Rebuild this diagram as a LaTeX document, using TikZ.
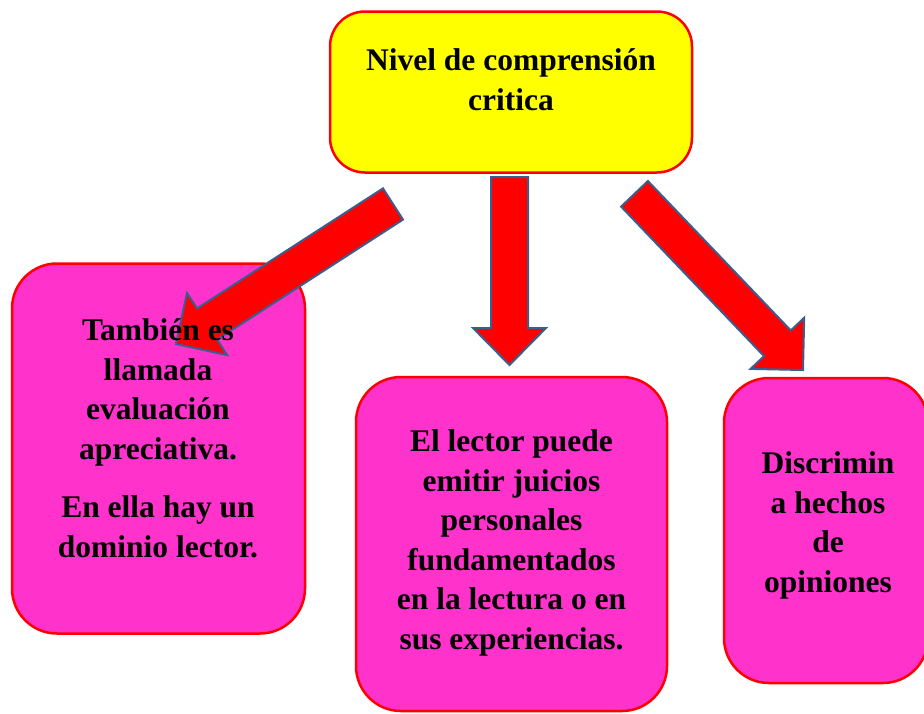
\documentclass[tikz,border=0pt]{standalone}
\usepackage{fontspec}
\setmainfont{Liberation Serif}
\definecolor{boxpink}{HTML}{FF33CC}
\definecolor{boxyellow}{HTML}{FFFF00}
\definecolor{arrowred}{HTML}{FF0000}
\definecolor{arrowblue}{HTML}{3A5F8F}
\begin{document}
\begin{tikzpicture}[x=1pt,y=-1pt,
  box/.style={draw=arrowred, line width=2.5pt, rounded corners=45pt, inner sep=0pt},
  pinkbox/.style={box, fill=boxpink},
  blockarrow/.style={fill=arrowred, draw=arrowblue, line width=2pt, line join=miter},
  label/.style={font=\bfseries\fontsize{31.5}{39.5}\selectfont, align=center, anchor=base, inner sep=0pt}]
\useasboundingbox (0,0) rectangle (924,713);
% boxes
\node[box, fill=boxyellow, rounded corners=35pt, minimum width=362pt, minimum height=161pt] (top) at (511,92) {};
\node[pinkbox, minimum width=293pt, minimum height=370pt] (left) at (158.5,448.5) {};
\node[pinkbox, minimum width=311pt, minimum height=334pt] (mid) at (511.5,544) {};
\node[pinkbox, minimum width=204pt, minimum height=305pt] (right) at (826,530.5) {};
% block arrows
\draw[blockarrow] (383,188.4) -- (403,219.6) -- (217.1,339.6) -- (227.2,355.1) -- (176,344) -- (187,292.9) -- (197.1,308.4) -- cycle;
\draw[blockarrow] (491,177) -- (528,177) -- (528,328) -- (546,328) -- (509.5,365) -- (473,328) -- (491,328) -- cycle;
\draw[blockarrow] (647.9,181.0) -- (790.8,330.5) -- (804.2,317.7) -- (803,370) -- (750.6,368.9) -- (764.0,356.1) -- (621.1,206.6) -- cycle;
% texts (anchor base = baseline of the last line)
\node[label] (toptext) at (511,110) {Nivel de comprensión\\critica};
\node[label] (lefttext) at (158,557) {También es\\llamada\\evaluación\\apreciativa.\\[19pt]En ella hay un\\dominio lector.};
\node[label] (midtext) at (511.5,649) {El lector puede\\emitir juicios\\personales\\fundamentados\\en la lectura o en\\sus experiencias.};
\node[label] (righttext) at (828,592) {Discrimin\\a hechos\\de\\opiniones};
\end{tikzpicture}
\end{document}
